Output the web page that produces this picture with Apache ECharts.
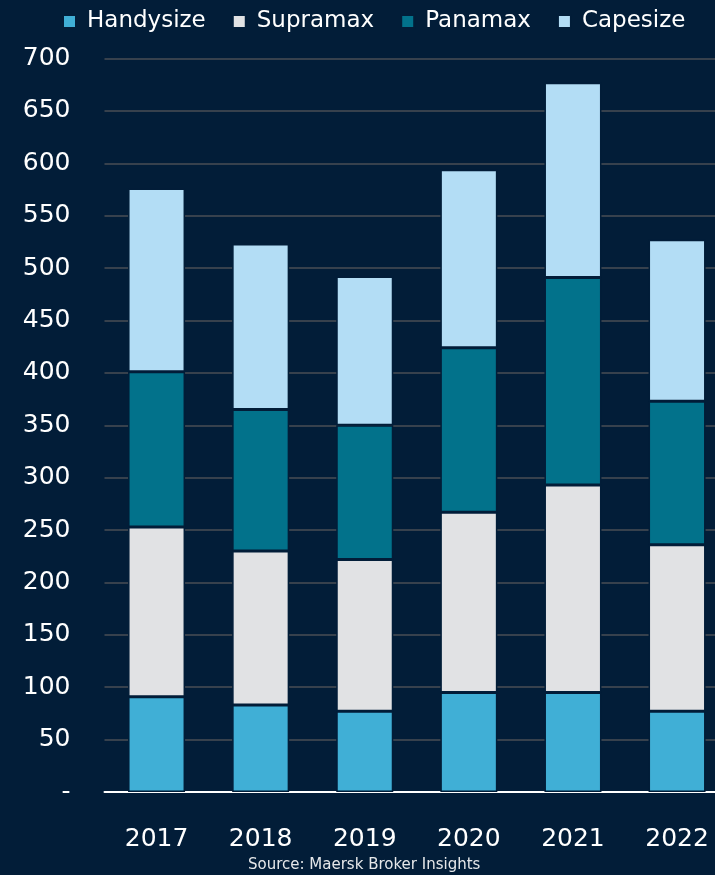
<!DOCTYPE html>
<html>
<head>
<meta charset="utf-8">
<script src="https://cdn.jsdelivr.net/npm/echarts@6/dist/echarts.min.js"></script>
<style>
  html, body { margin: 0; padding: 0; background: #021d38; }
  #bulk-chart { width: 715px; height: 875px; }
</style>
</head>
<body>
<div id="bulk-chart"></div>
<script>
var years = ['2017', '2018', '2019', '2020', '2021', '2022'];
var handysize = [91, 83, 77, 95, 95, 77];
var supramax = [162, 147, 145, 172, 198, 159];
var panamax = [148, 135, 128, 157, 198, 137];
var capesize = [175, 158, 142, 170, 186, 154];

var bg = '#021d38';

function draw_bulk_chart() {
  var bulk_chart = echarts.init(document.getElementById('bulk-chart'));

  function stack_series(name, data, color) {
    return {
      name: name,
      type: 'bar',
      stack: 'total',
      barWidth: 57,
      data: data,
      itemStyle: {
        color: color,
        borderColor: bg,
        borderWidth: 1.5
      }
    };
  }

  var option = {
    backgroundColor: bg,
    animation: false,
    textStyle: { fontFamily: 'DejaVu Sans' },
    legend: {
      data: ['Handysize', 'Supramax', 'Panamax', 'Capesize'],
      left: 57,
      top: 5,
      icon: 'rect',
      itemWidth: 13,
      itemHeight: 13,
      itemGap: 26,
      textStyle: { color: '#ffffff', fontSize: 23, padding: [0, 0, 0, 6] }
    },
    grid: {
      left: 104.5,
      top: 58.6,
      width: 624.6,
      bottom: 83,
      outerBoundsMode: 'none'
    },
    xAxis: {
      type: 'category',
      data: years,
      axisLine: { lineStyle: { color: '#ffffff', width: 2 } },
      axisTick: { show: false },
      axisLabel: { color: '#ffffff', fontSize: 25, margin: 35 }
    },
    yAxis: {
      type: 'value',
      min: 0,
      max: 700,
      interval: 50,
      axisLine: { show: false },
      axisTick: { show: false },
      axisLabel: {
        color: '#ffffff',
        fontSize: 25,
        margin: 34,
        formatter: function (v) { return v === 0 ? '-' : v; }
      },
      splitLine: { lineStyle: { color: '#4a4e54', width: 1.5 } }
    },
    graphic: [{
      type: 'text',
      left: 248,
      top: 858,
      style: {
        text: 'Source: Maersk Broker Insights',
        fill: '#e6e8ea',
        fontSize: 15,
        fontFamily: 'DejaVu Sans'
      }
    }],
    series: [
      stack_series('Handysize', handysize, '#40afd6'),
      stack_series('Supramax', supramax, '#e1e2e4'),
      stack_series('Panamax', panamax, '#02728b'),
      stack_series('Capesize', capesize, '#b3ddf5')
    ]
  };

  bulk_chart.setOption(option);
}

draw_bulk_chart();
</script>
</body>
</html>
